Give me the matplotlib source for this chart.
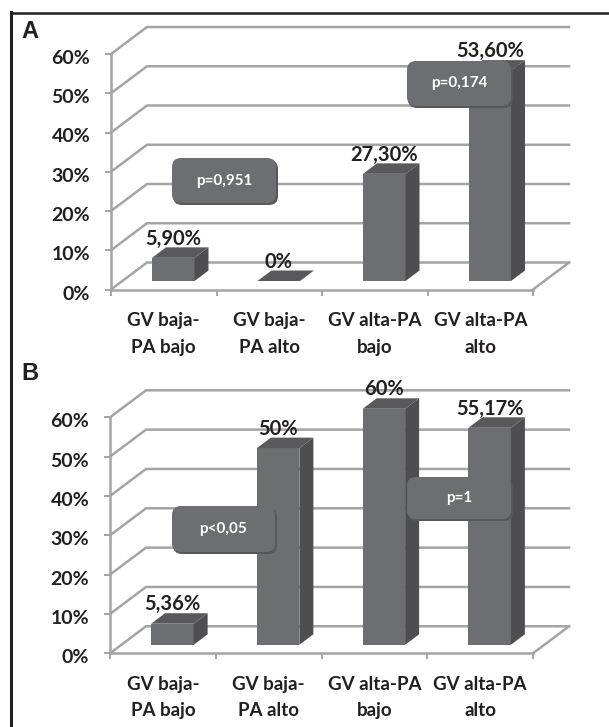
import matplotlib
matplotlib.use("Agg")
import matplotlib.pyplot as plt
from matplotlib.patches import FancyBboxPatch, Polygon
from matplotlib.transforms import ScaledTranslation

plt.rcParams["font.family"] = ["Lato", "DejaVu Sans"]
plt.rcParams["font.weight"] = "bold"

W, H = 609, 727

# data
categories_a = ["GV baja-\nPA bajo", "GV baja-\nPA alto", "GV alta-PA\nbajo", "GV alta-PA\nalto"]
categories_b = ["GV baja-\nPA bajo", "GV baja-\nPA alto", "GV alta-PA\nbajo", "GV alta-PA\nalto"]
values_a = [5.9, 0, 27.3, 53.6]
values_b = [5.36, 50, 60, 55.17]
labels_a = ["5,90%", "0%", "27,30%", "53,60%"]
labels_b = ["5,36%", "50%", "60%", "55,17%"]
y_ticks = [0, 10, 20, 30, 40, 50, 60]

GRID = "#a4a4a4"
FRONT = "#6d6e71"
SIDE = "#4e4e50"
TOP = "#59595b"
BUBBLE = "#6d6e71"
TEXT = "#231f20"


def px_axes(fig, left, right, top, bottom):
    return fig.add_axes([left / W, 1 - bottom / H, (right - left) / W, (bottom - top) / H])


def draw_panel(fig, box, categories, values, labels):
    ax = px_axes(fig, *box)
    left, right, top, bottom = box
    ux = (right - left) / 4
    uy = (bottom - top) / 60

    # 3d offsets, in data units
    wall_x, wall_y = 36 / ux, 27 / uy
    gap_x, gap_y = 9.5 / ux, 8.5 / uy
    deep_x, deep_y = 14 / ux, 10.5 / uy
    bar_w = 42.5 / ux

    ax.set_xlim(0, 4)
    ax.set_ylim(0, 60)
    ax.patch.set_alpha(0)

    for v in y_ticks:
        ax.plot([0, wall_x, 4 + wall_x], [v, v + wall_y, v + wall_y], color=GRID, lw=1.8,
                clip_on=False, zorder=1, solid_joinstyle="miter")
    ax.plot([4, 4 + wall_x], [0, wall_y], color=GRID, lw=1.8, clip_on=False, zorder=1)

    for i, v in enumerate(values):
        x0 = i + 0.5 + gap_x - bar_w / 2
        x1 = x0 + bar_w
        y1 = gap_y + v
        ax.bar(x0, v, width=bar_w, bottom=gap_y, align="edge", color=FRONT, clip_on=False, zorder=3)
        ax.add_patch(Polygon([(x1, gap_y), (x1 + deep_x, gap_y + deep_y), (x1 + deep_x, y1 + deep_y), (x1, y1)],
                             color=SIDE, lw=0, clip_on=False, zorder=3))
        ax.add_patch(Polygon([(x0, y1), (x0 + deep_x, y1 + deep_y), (x1 + deep_x, y1 + deep_y), (x1, y1)],
                             color=TOP, lw=0, clip_on=False, zorder=3))
        ax.text(i + 0.5 + gap_x, y1 + deep_y - 0.3, labels[i], ha="center", va="bottom",
                fontsize=14.5, color=TEXT, zorder=4)

    for s in ["top", "right"]:
        ax.spines[s].set_visible(False)
    for s in ["left", "bottom"]:
        ax.spines[s].set_color(GRID)
        ax.spines[s].set_linewidth(1.8)

    ax.set_yticks(y_ticks)
    ax.set_yticklabels([f"{v}%" for v in y_ticks], fontsize=14, color=TEXT)
    ax.set_xticks([0, 1, 2, 3, 4])
    ax.set_xticklabels([])
    ax.set_xticks([0.5, 1.5, 2.5, 3.5], minor=True)
    ax.set_xticklabels(categories, minor=True, fontsize=13.5, color=TEXT, linespacing=1.7)
    ax.tick_params(axis="both", which="major", color=GRID, width=1.4, length=4)
    ax.tick_params(axis="y", pad=11)
    ax.tick_params(axis="x", which="minor", length=0, pad=16)

    # y labels sit a bit under their ticks in the original
    shift = ScaledTranslation(0, -3 / 100, fig.dpi_scale_trans)
    for lab in ax.get_yticklabels():
        lab.set_transform(lab.get_transform() + shift)
    return ax


def bubble(x0, y0, x1, y1, text):
    # picture coordinates, shadow first
    def rect(a, b, c, d, col, z):
        pad = 9
        p = FancyBboxPatch((a + pad, H - d + pad), c - a - 2 * pad, d - b - 2 * pad,
                           boxstyle=f"round,pad={pad},rounding_size=9", fc=col, ec="none",
                           clip_on=False, zorder=z)
        overlay.add_patch(p)
    rect(x0 + 1, y0 + 2, x1 + 2, y1 + 2, "#58585a", 5)
    rect(x0, y0, x1, y1, BUBBLE, 6)
    overlay.text((x0 + x1) / 2, H - (y0 + y1) / 2, text, color="white", ha="center", va="center",
                 fontsize=11, zorder=7)


fig = plt.figure(figsize=(W / 100, H / 100), dpi=100, facecolor="white")

draw_panel(fig, (111, 533, 54, 289.5), categories_a, values_a, labels_a)
draw_panel(fig, (110, 533, 417.3, 653.3), categories_b, values_b, labels_b)

overlay = fig.add_axes([0, 0, 1, 1], zorder=10)
overlay.set_xlim(0, W)
overlay.set_ylim(0, H)
overlay.axis("off")
overlay.patch.set_alpha(0)

# frame: top and left only, right side is cropped off in the original
overlay.plot([W, 11], [H - 12.5, H - 12.5], color="#231f20", lw=1.8)
overlay.plot([10.5, 10.5], [H - 11.5, 0], color="#231f20", lw=2.2)

bubble(172, 158, 276, 203, "p=0,951")
bubble(407, 61, 511, 106, "p=0,174")
bubble(172, 506, 275, 552, "p<0,05")
bubble(407, 477, 511, 519, "p=1")

overlay.text(21, H - 32, "A", fontsize=17, color=TEXT, va="center", family="Liberation Sans")
overlay.text(21, H - 374, "B", fontsize=17, color=TEXT, va="center", family="Liberation Sans")

fig.savefig("out.png", dpi=100)
